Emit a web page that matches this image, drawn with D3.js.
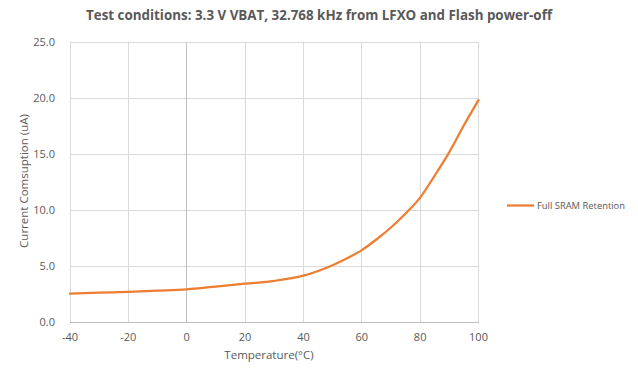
<!DOCTYPE html>
<html><head><meta charset="utf-8">
<script src="https://cdn.jsdelivr.net/npm/d3@7"></script>
<style>body{margin:0;background:#fff}svg{display:block}text{font-family:"Open Sans","Liberation Sans",sans-serif}</style>
</head><body><svg id="c" width="638" height="380"></svg>
<script>
const temps = [-40, -30, -20, -10, 0, 10, 20, 30, 40, 50, 55, 60, 65, 70, 75, 80, 85, 90, 95, 100];
const current = [2.53, 2.62, 2.7, 2.8, 2.92, 3.17, 3.43, 3.68, 4.15, 5.08, 5.7, 6.43, 7.38, 8.45, 9.7, 11.13, 13.1, 15.2, 17.6, 19.85];
const xTicks = [-40, -20, 0, 20, 40, 60, 80, 100];
const yTicks = [0, 5, 10, 15, 20, 25];
const seriesName = "Full SRAM Retention";
const title = "Test conditions: 3.3 V VBAT, 32.768 kHz from LFXO and Flash power-off";
const xLabel = "Temperature(\u00B0C)";
const yLabel = "Current Comsuption (uA)";

const svg = d3.select("#c");
const x = d3.scaleLinear().domain([-40, 100]).range([70, 478.5]);
const y = d3.scaleLinear().domain([0, 25]).range([322, 42.5]);

// gridlines
svg.append("g").selectAll("line").data(yTicks.filter(d => d > 0)).join("line")
  .attr("x1", x(-40)).attr("x2", x(100)).attr("y1", d => y(d)).attr("y2", d => y(d))
  .attr("stroke", "#d9d9d9").attr("stroke-width", 1).attr("shape-rendering", "crispEdges");
svg.append("g").selectAll("line").data(xTicks.filter(d => d !== 0)).join("line")
  .attr("x1", d => x(d)).attr("x2", d => x(d)).attr("y1", y(0)).attr("y2", y(25))
  .attr("stroke", "#d9d9d9").attr("stroke-width", 1).attr("shape-rendering", "crispEdges");
// axis lines
svg.append("line").attr("x1", x(0)).attr("x2", x(0)).attr("y1", y(0)).attr("y2", y(25))
  .attr("stroke", "#bfbfbf").attr("shape-rendering", "crispEdges");
svg.append("line").attr("x1", x(-40)).attr("x2", x(100)).attr("y1", y(0)).attr("y2", y(0))
  .attr("stroke", "#bfbfbf").attr("shape-rendering", "crispEdges");

// tick labels
svg.append("g").selectAll("text").data(yTicks).join("text")
  .attr("x", 55).attr("y", d => y(d)).attr("dy", "0.35em").attr("text-anchor", "end")
  .attr("font-size", 11).attr("fill", "#595959").text(d => d3.format(".1f")(d));
svg.append("g").selectAll("text").data(xTicks).join("text")
  .attr("x", d => x(d)).attr("y", 337).attr("dy", "0.35em").attr("text-anchor", "middle")
  .attr("font-size", 11).attr("fill", "#595959").text(d => d);

// axis titles
svg.append("text").attr("x", 269).attr("y", 355).attr("dy", "0.35em").attr("text-anchor", "middle")
  .attr("font-size", 11.5).attr("fill", "#595959").text(xLabel);
svg.append("text").attr("transform", "translate(24,181) rotate(-90)").attr("dy", "0.35em")
  .attr("text-anchor", "middle").attr("font-size", 11.5).attr("fill", "#595959").text(yLabel);

// title
svg.append("text").attr("x", 319).attr("y", 15.5).attr("dy", "0.35em").attr("text-anchor", "middle")
  .attr("font-size", 14).attr("font-weight", "bold").attr("fill", "#595959")
  .attr("textLength", 466).attr("lengthAdjust", "spacingAndGlyphs").text(title);

// line
const data = temps.map((t, i) => ({t, v: current[i]}));
svg.append("path").datum(data)
  .attr("d", d3.line().x(d => x(d.t)).y(d => y(d.v)).curve(d3.curveMonotoneX))
  .attr("fill", "none").attr("stroke", "#ED7D31").attr("stroke-width", 2.25).attr("stroke-linecap", "round");

// legend
svg.append("line").attr("x1", 507).attr("x2", 534).attr("y1", 205.5).attr("y2", 205.5)
  .attr("stroke", "#ED7D31").attr("stroke-width", 2.25);
svg.append("text").attr("x", 537).attr("y", 205.5).attr("dy", "0.35em").attr("font-size", 9.5)
  .attr("fill", "#595959").attr("textLength", 88).attr("lengthAdjust", "spacingAndGlyphs").text(seriesName);
</script></body></html>
